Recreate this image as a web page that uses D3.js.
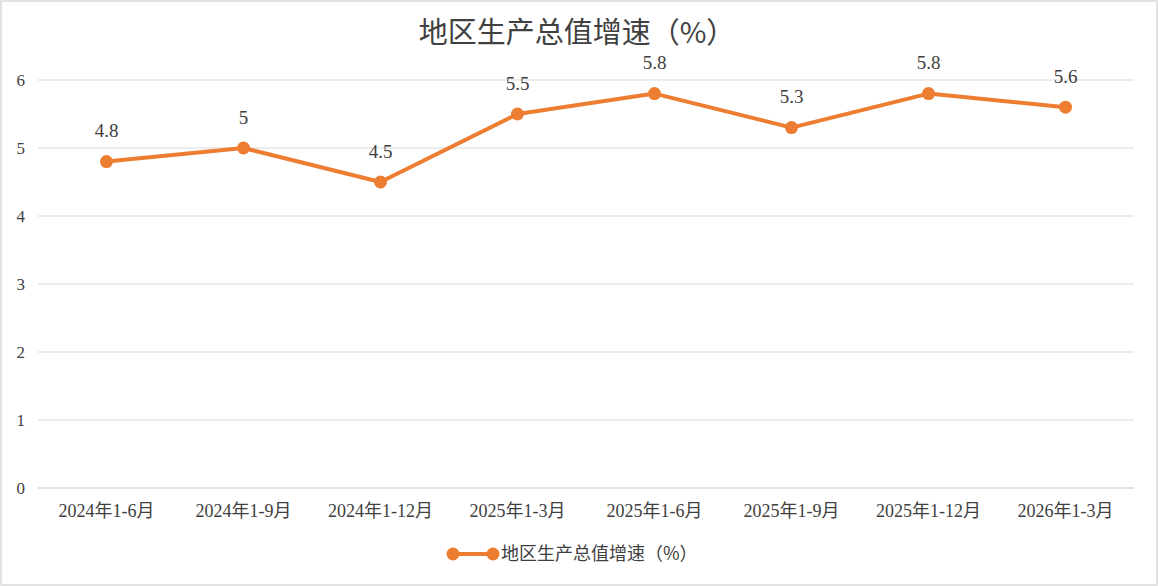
<!DOCTYPE html>
<html>
<head>
<meta charset="utf-8">
<script src="https://cdn.jsdelivr.net/npm/d3@7"></script>
<style>
  html, body { margin: 0; padding: 0; background: #fff; }
  svg text { font-family: "Liberation Serif", "Times New Roman", "Noto Sans CJK SC", serif; fill: #404040; }
</style>
</head>
<body>
<div id="wrapper"></div>
<script>
const categories = ["2024年1-6月", "2024年1-9月", "2024年1-12月", "2025年1-3月", "2025年1-6月", "2025年1-9月", "2025年1-12月", "2026年1-3月"]
const growthValues = [4.8, 5, 4.5, 5.5, 5.8, 5.3, 5.8, 5.6]
const yTicks = [0, 1, 2, 3, 4, 5, 6]
const chartTitle = "地区生产总值增速（%）"
const seriesName = "地区生产总值增速（%）"

const dimensions = {
  width: 1158,
  height: 586,
  margin: { top: 80, right: 24, bottom: 98, left: 38 },
}
dimensions.boundedWidth = dimensions.width - dimensions.margin.left - dimensions.margin.right
dimensions.boundedHeight = dimensions.height - dimensions.margin.top - dimensions.margin.bottom

const color = "#ED7D31"
const serif = "'Liberation Serif', 'Times New Roman', 'Noto Sans CJK SC', serif"

const wrapper = d3.select("#wrapper")
  .append("svg")
  .attr("width", dimensions.width)
  .attr("height", dimensions.height)

wrapper.append("rect")
  .attr("x", 1).attr("y", 1)
  .attr("width", dimensions.width - 2)
  .attr("height", dimensions.height - 2)
  .attr("fill", "#fff")
  .attr("stroke", "#d9d9d9")
  .attr("stroke-width", 1.5)

const bounds = wrapper.append("g")
  .attr("transform", `translate(${dimensions.margin.left},${dimensions.margin.top})`)

const xScale = d3.scaleBand()
  .domain(categories)
  .range([0, dimensions.boundedWidth])

const yScale = d3.scaleLinear()
  .domain([0, 6])
  .range([dimensions.boundedHeight, 0])

// gridlines
bounds.selectAll(".grid")
  .data(yTicks)
  .enter().append("line")
  .attr("x1", 0)
  .attr("x2", dimensions.boundedWidth)
  .attr("y1", d => yScale(d))
  .attr("y2", d => yScale(d))
  .attr("stroke", "#d9d9d9")
  .attr("stroke-width", d => d === 0 ? 1.5 : 1)

// y labels
bounds.selectAll(".y-label")
  .data(yTicks)
  .enter().append("text")
  .attr("x", -13)
  .attr("y", d => yScale(d))
  .attr("dy", "0.35em")
  .attr("text-anchor", "end")
  .style("font-family", serif)
  .style("font-size", "17px")
  .text(d => d)

// x labels
bounds.selectAll(".x-label")
  .data(categories)
  .enter().append("text")
  .attr("x", d => xScale(d) + xScale.bandwidth() / 2)
  .attr("y", dimensions.boundedHeight + 23)
  .attr("dy", "0.35em")
  .attr("text-anchor", "middle")
  .style("font-family", serif)
  .style("font-size", "18px")
  .text(d => d)

const xAccessor = (d, i) => xScale(categories[i]) + xScale.bandwidth() / 2

const lineGenerator = d3.line()
  .x((d, i) => xAccessor(d, i))
  .y(d => yScale(d))

bounds.append("path")
  .attr("d", lineGenerator(growthValues))
  .attr("fill", "none")
  .attr("stroke", color)
  .attr("stroke-width", 4)
  .attr("stroke-linejoin", "round")

bounds.selectAll(".dot")
  .data(growthValues)
  .enter().append("circle")
  .attr("cx", (d, i) => xAccessor(d, i))
  .attr("cy", d => yScale(d))
  .attr("r", 6.5)
  .attr("fill", color)

bounds.selectAll(".value-label")
  .data(growthValues)
  .enter().append("text")
  .attr("x", (d, i) => xAccessor(d, i))
  .attr("y", d => yScale(d) - 31)
  .attr("dy", "0.35em")
  .attr("text-anchor", "middle")
  .style("font-family", serif)
  .style("font-size", "19px")
  .text(d => d)

// title
wrapper.append("text")
  .attr("x", dimensions.width / 2 - 2)
  .attr("y", 33)
  .attr("dy", "0.35em")
  .attr("text-anchor", "middle")
  .style("font-size", "29px")
  .style("font-family", "'Noto Sans CJK SC', sans-serif")
  .text(chartTitle)

// legend
const legend = wrapper.append("g")
  .attr("transform", "translate(453,554)")

legend.append("line")
  .attr("x1", 0).attr("x2", 40)
  .attr("stroke", color)
  .attr("stroke-width", 4)

legend.append("circle").attr("cx", 0).attr("r", 6.5).attr("fill", color)
legend.append("circle").attr("cx", 40).attr("r", 6.5).attr("fill", color)

legend.append("text")
  .attr("x", 48)
  .attr("dy", "0.35em")
  .style("font-size", "18px")
  .style("font-family", "'Noto Sans CJK SC', sans-serif")
  .text(seriesName)
</script>
</body>
</html>
